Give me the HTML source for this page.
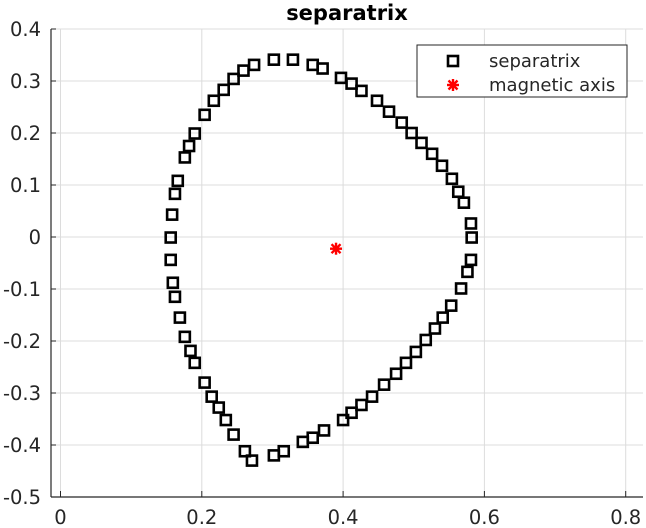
<!DOCTYPE html>
<html><head><meta charset="utf-8"><style>
body{margin:0;background:#fff;}
svg{display:block;font-family:"DejaVu Sans","Liberation Sans",sans-serif;}
</style></head><body>
<svg id="chart" width="646" height="528" viewBox="0 0 646 528" xmlns="http://www.w3.org/2000/svg">
<g id="grid"></g>
<g id="axes"></g>
<g id="series"></g>
<text x="347" y="20" text-anchor="middle" font-size="21" font-weight="bold" fill="#000">separatrix</text>
<g>
<rect x="417" y="45" width="210" height="52" fill="#fff" stroke="#262626" stroke-width="1"/>
<rect x="448" y="56" width="10" height="10" fill="none" stroke="#000" stroke-width="2.6"/>
<text x="489" y="67" font-size="18" fill="#262626">separatrix</text>
<g id="legstar"></g>
<text x="489" y="91" font-size="18" fill="#262626">magnetic axis</text>
</g>
</svg>
<script>
const sepX=[0.302,0.329,0.357,0.371,0.397,0.412,0.426,0.448,0.465,0.483,0.497,0.511,0.526,0.540,0.554,0.563,0.571,0.581,0.582,0.581,0.576,0.567,0.553,0.541,0.530,0.517,0.503,0.489,0.475,0.458,0.441,0.426,0.412,0.400,0.373,0.357,0.343,0.316,0.302,0.271,0.261,0.245,0.234,0.224,0.214,0.204,0.190,0.184,0.176,0.169,0.162,0.159,0.156,0.156,0.158,0.162,0.166,0.176,0.182,0.190,0.204,0.217,0.231,0.245,0.259,0.274];
const sepY=[0.341,0.341,0.331,0.324,0.306,0.295,0.281,0.262,0.241,0.220,0.200,0.181,0.160,0.137,0.112,0.087,0.066,0.026,-0.001,-0.044,-0.067,-0.099,-0.132,-0.155,-0.176,-0.198,-0.221,-0.242,-0.263,-0.284,-0.307,-0.323,-0.338,-0.352,-0.372,-0.386,-0.394,-0.412,-0.420,-0.430,-0.412,-0.380,-0.352,-0.328,-0.307,-0.280,-0.242,-0.219,-0.192,-0.155,-0.115,-0.088,-0.044,-0.001,0.043,0.083,0.108,0.153,0.175,0.199,0.235,0.262,0.283,0.304,0.320,0.331];
const axisX=[0.39];
const axisY=[-0.0225];
const xTicks=[0,0.2,0.4,0.6,0.8];
const yTicks=[0.4,0.3,0.2,0.1,0,-0.1,-0.2,-0.3,-0.4,-0.5];
const xTickLabels=["0","0.2","0.4","0.6","0.8"];
const yTickLabels=["0.4","0.3","0.2","0.1","0","-0.1","-0.2","-0.3","-0.4","-0.5"];
const L=51,R=643,T=29,B=497;
function sx(v){return 60.5+v*706.5;}
function sy(v){return 237-v*520;}
const NS='http://www.w3.org/2000/svg';
function mk(t,a,p){const e=document.createElementNS(NS,t);for(const k in a)e.setAttribute(k,a[k]);p.appendChild(e);return e;}
const grid=document.getElementById('grid'),axes=document.getElementById('axes'),series=document.getElementById('series');
xTicks.forEach((v,i)=>{
 const g=mk('line',{x1:sx(v),x2:sx(v),y1:T,y2:B,stroke:'#dcdcdc','stroke-width':1},grid);
 
 
 const t=mk('line',{x1:sx(v),x2:sx(v),y1:B,y2:B-6,stroke:'#262626','stroke-width':1},axes);
 
 
 const l=mk('text',{x:sx(v),y:524,'text-anchor':'middle','font-size':19.5,fill:'#262626'},axes);
 l.textContent=xTickLabels[i];
 
 
});
yTicks.forEach((v,i)=>{
 const g=mk('line',{x1:L,x2:R,y1:sy(v),y2:sy(v),stroke:'#dcdcdc','stroke-width':1},grid);
 
 
 const t=mk('line',{x1:L,x2:L+5,y1:sy(v),y2:sy(v),stroke:'#262626','stroke-width':1},axes);
 
 
 const l=mk('text',{x:41,y:sy(v)+7,'text-anchor':'end','font-size':19.5,fill:'#262626'},axes);
 l.textContent=yTickLabels[i];
 
 
});
const xa=mk('line',{x1:L,x2:R,y1:B,y2:B,stroke:'#262626','stroke-width':1.2},axes);


const ya=mk('line',{x1:L,x2:L,y1:T,y2:B,stroke:'#262626','stroke-width':1.2},axes);


sepX.forEach((v,i)=>{
 const r=mk('rect',{x:sx(v)-5,y:sy(sepY[i])-5,width:10,height:10,fill:'none',stroke:'#000','stroke-width':2.6},series);
 
 
});
function star(cx,cy,p){
 const g=mk('g',{stroke:'#ff0000','stroke-width':2.4},p);
 [[0,-6,0,6],[-6,0,6,0],[-4.5,-4.5,4.5,4.5],[-4.5,4.5,4.5,-4.5]].forEach(s=>mk('line',{x1:cx+s[0],y1:cy+s[1],x2:cx+s[2],y2:cy+s[3]},g));
 return g;
}
axisX.forEach((v,i)=>{
 const s=star(sx(v),sy(axisY[i]),series);
 
 
});
star(453,85,document.getElementById('legstar'));
</script>
</body></html>
